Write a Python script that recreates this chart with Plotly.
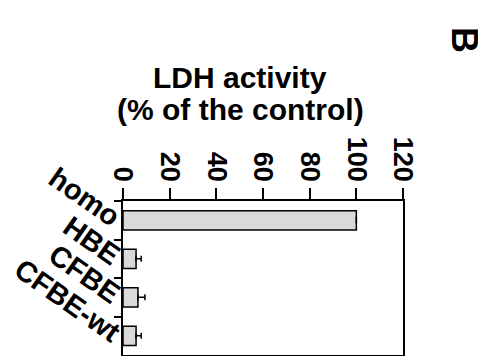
import plotly.graph_objects as go

categories = ["homo", "HBE", "CFBE", "CFBE-wt"]
ldh = [100, 5.6, 6.4, 5.6]
ldh_err = [0, 2.2, 3.0, 2.2]
x_ticks = [0, 20, 40, 60, 80, 100, 120]

# page body has an 8px margin, so the figure is drawn 8px smaller and shifted
OFF = 8
W, H = 486 - OFF, 356 - OFF
L, T = 123 - OFF, 201 - OFF
R, B = W - (403 - OFF), H - (355 - OFF)
pw, ph = W - L - R, H - T - B

fig = go.Figure()
fig.add_trace(go.Bar(
    y=categories, x=ldh, orientation="h",
    marker=dict(color="#d9d9d9", line=dict(color="black", width=1.5)),
    width=0.5,
    error_x=dict(type="data", array=ldh_err, symmetric=False,
                 color="black", thickness=1.5, width=3),
))

fig.update_layout(
    width=W, height=H,
    margin=dict(l=L, r=R, t=T, b=B),
    paper_bgcolor="white", plot_bgcolor="white",
    showlegend=False,
    font=dict(family="Liberation Sans, Arial", color="black"),
    xaxis=dict(side="top", range=[0, 120], tickvals=x_ticks, tickangle=90,
               ticks="outside", ticklen=11, tickwidth=1.5, tickcolor="black",
               showline=True, linecolor="black", linewidth=1.5, mirror=True,
               showgrid=False, zeroline=False, automargin=False,
               ticklabelstandoff=-3,
               tickfont=dict(size=27, weight="bold")),
    yaxis=dict(autorange="reversed", tickangle=35, tickson="boundaries",
               ticks="outside", ticklen=7, tickwidth=1.5, tickcolor="black",
               showline=True, linecolor="black", linewidth=1.5, mirror=True,
               showgrid=False, zeroline=False, automargin=False,
               ticklabelstandoff=-4,
               tickfont=dict(size=29, weight="bold")),
)


def px(x, y):
    # reference pixel position -> paper coords
    return (x - OFF - L) / pw, (H - (y - OFF) - B) / ph


for txt, (xp, yp), size, ang in [
    ("LDH activity", (240, 77), 30, 0),
    ("(% of the control)", (240, 109), 30, 0),
    ("B", (465, 40), 36, 90),
]:
    xx, yy = px(xp, yp)
    fig.add_annotation(text=txt, x=xx, y=yy, xref="paper", yref="paper",
                       xanchor="center", yanchor="middle", showarrow=False,
                       textangle=ang, font=dict(size=size, weight="bold"))

fig.write_html("out.html")
